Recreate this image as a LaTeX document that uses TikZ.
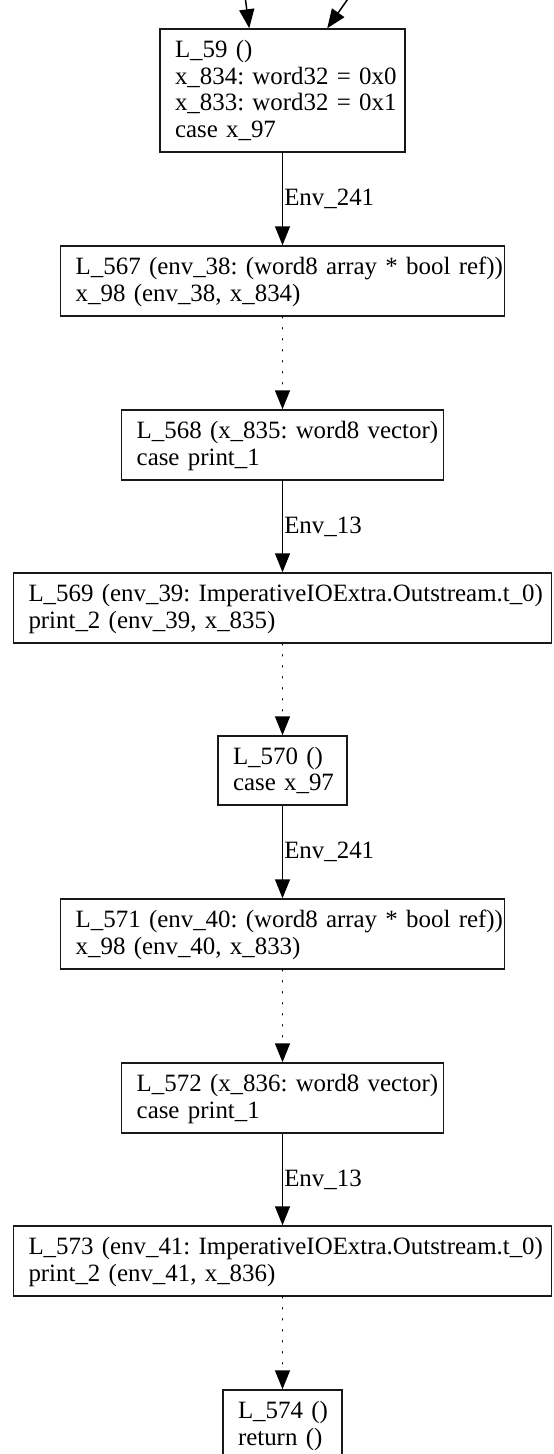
\documentclass[tikz,border=0pt]{standalone}
\usepackage{fontspec}
\setmainfont{Liberation Serif}
\usetikzlibrary{arrows.meta}
\frenchspacing
% strut giving every text row the same height and depth
\newcommand\rowstrut{\vrule height 20.25pt depth 6.25pt width 0pt}
\newcommand\row[1]{\mbox{\rowstrut#1}}
\begin{document}
\begin{tikzpicture}[x=1pt,y=-1pt,
  font=\fontsize{24.9pt}{26.5pt}\selectfont,
  block/.style 2 args={draw=black!90, line width=1.5pt, fill=white, align=left,
    inner xsep=15pt, inner ysep=0pt, minimum width=#1, text width=#2,
    minimum height=70pt},
  edge/.style={line width=1.5pt, -{Triangle[length=19pt,width=15pt]}},
  dots/.style={edge, line cap=round, dash pattern=on 1pt off 10pt},
  lbl/.style={anchor=west, inner sep=0pt, xshift=1pt}
]
\useasboundingbox (0,0) rectangle (554,1454);
\clip (0,0) rectangle (554,1454);

% blocks of the chain
\node[block={245pt}{215pt}, minimum height=123pt] (n59) at (282.5,90.5)
  {\row{L\_59 ()}\\\row{x\_834: word32 = 0x0}\\\row{x\_833: word32 = 0x1}\\\row{case x\_97}};
\node[block={443.6pt}{413.6pt}] (n567) at (282.5,281)
  {\row{L\_567 (env\_38: (word8 array * bool ref))}\\\row{x\_98 (env\_38, x\_834)}};
\node[block={321.6pt}{291.6pt}] (n568) at (282.5,445)
  {\row{L\_568 (x\_835: word8 vector)}\\\row{case print\_1}};
\node[block={538pt}{508pt}] (n569) at (282.5,608)
  {\row{L\_569 (env\_39: ImperativeIOExtra.Outstream.t\_0)}\\\row{print\_2 (env\_39, x\_835)}};
\node[block={129pt}{99pt}, minimum height=69pt] (n570) at (282.5,770.5)
  {\row{L\_570 ()}\\\row{case x\_97}};
\node[block={443.6pt}{413.6pt}] (n571) at (282.5,934)
  {\row{L\_571 (env\_40: (word8 array * bool ref))}\\\row{x\_98 (env\_40, x\_833)}};
\node[block={321.6pt}{291.6pt}] (n572) at (282.5,1098)
  {\row{L\_572 (x\_836: word8 vector)}\\\row{case print\_1}};
\node[block={538pt}{508pt}] (n573) at (282.5,1261)
  {\row{L\_573 (env\_41: ImperativeIOExtra.Outstream.t\_0)}\\\row{print\_2 (env\_41, x\_836)}};
\node[block={119pt}{89pt}] (n574) at (282.5,1425)
  {\row{L\_574 ()}\\\row{return ()}};

% incoming edges from above
\coordinate (srcA) at (245,-4);
\coordinate (srcB) at (350,-4);
\draw[edge] (srcA) -- ([xshift=90pt]n59.north west);
\draw[edge] (srcB) -- ([xshift=168pt]n59.north west);

% chain edges
\draw[edge] (n59) -- node[lbl] {Env\_241} (n567);
\draw[dots] (n567) -- (n568);
\draw[edge] (n568) -- node[lbl] {Env\_13} (n569);
\draw[dots] (n569) -- (n570);
\draw[edge] (n570) -- node[lbl] {Env\_241} (n571);
\draw[dots] (n571) -- (n572);
\draw[edge] (n572) -- node[lbl] {Env\_13} (n573);
\draw[dots] (n573) -- (n574);
\end{tikzpicture}
\end{document}
